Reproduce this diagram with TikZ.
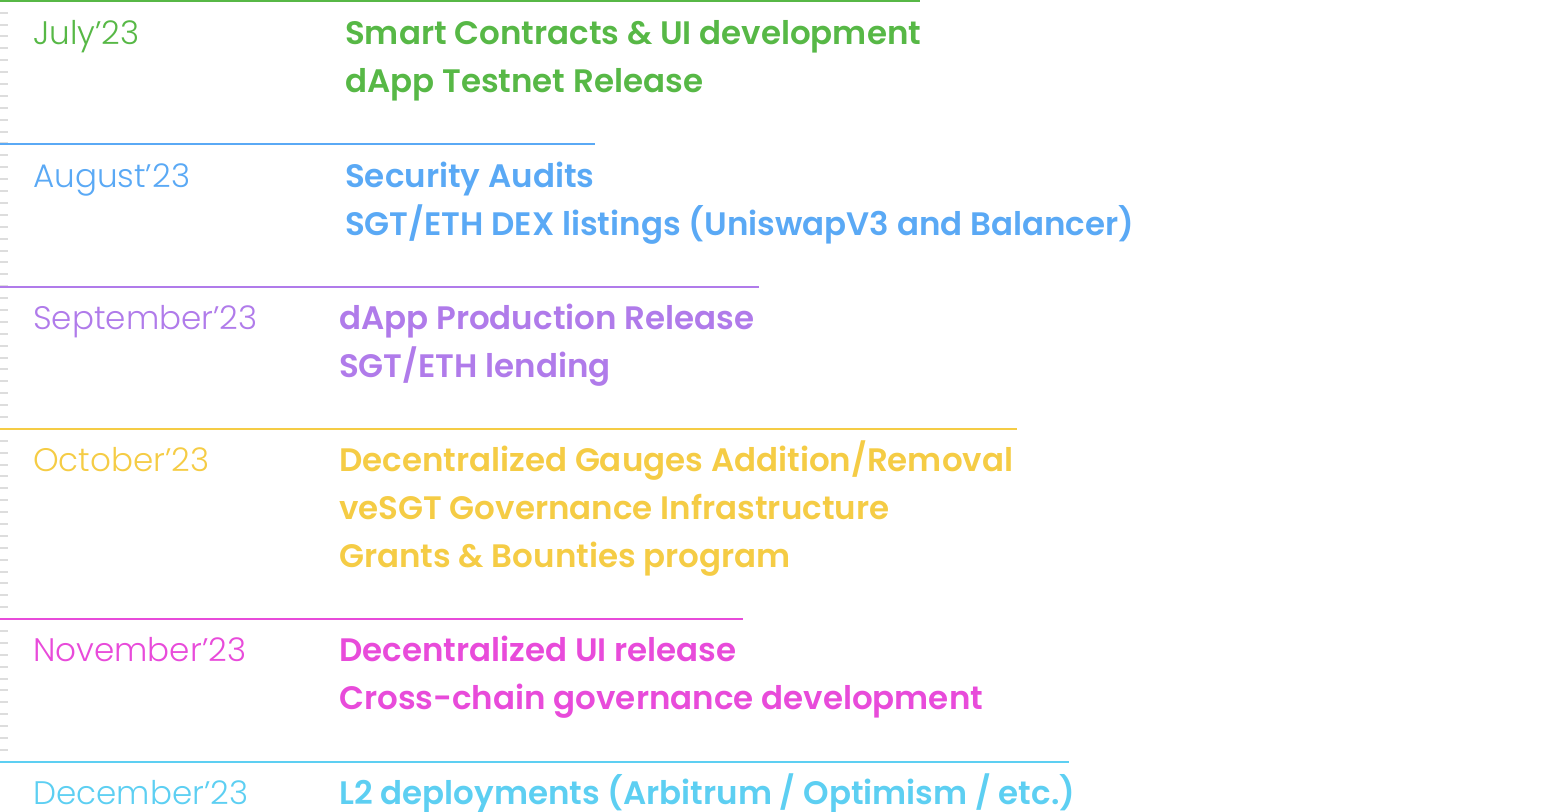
\documentclass[tikz,border=0pt]{standalone}
\usepackage{fontspec}
\setmainfont{Poppins}
\newfontfamily\lightf{Poppins Light}
\newfontfamily\semif{Poppins SemiBold}
\definecolor{cjul}{HTML}{57B846}
\definecolor{caug}{HTML}{5AA9F5}
\definecolor{csep}{HTML}{B07BEA}
\definecolor{coct}{HTML}{F5CC45}
\definecolor{cnov}{HTML}{E84BDA}
\definecolor{cdec}{HTML}{5DCFF2}
\definecolor{ctick}{HTML}{DDDDDD}
\tikzset{
  month/.style={anchor=base west, inner sep=0pt, font=\lightf\fontsize{32.6}{36}\selectfont},
  item/.style={anchor=base west, inner sep=0pt, font=\semif\fontsize{32.5}{36}\selectfont},
  sep/.style={line width=2pt},
  tick/.style={ctick, line width=2pt}
}
\begin{document}
\begin{tikzpicture}[x=1pt,y=-1pt]
\useasboundingbox (0,0) rectangle (1555,811);
\foreach \k in {0,...,62} {
  \draw[tick] (0,{12.7+\k*11.89}) -- (8,{12.7+\k*11.89});
}
% separators
\coordinate (l1a) at (0,1); \coordinate (l1b) at (920,1);
\coordinate (l2a) at (0,143.5); \coordinate (l2b) at (595,143.5);
\coordinate (l3a) at (0,286.5); \coordinate (l3b) at (759,286.5);
\coordinate (l4a) at (0,428.5); \coordinate (l4b) at (1017,428.5);
\coordinate (l5a) at (0,619); \coordinate (l5b) at (743,619);
\coordinate (l6a) at (0,762); \coordinate (l6b) at (1069,762);
\draw[sep,cjul] (l1a) -- (l1b);
\draw[sep,caug] (l2a) -- (l2b);
\draw[sep,csep] (l3a) -- (l3b);
\draw[sep,coct] (l4a) -- (l4b);
\draw[sep,cnov] (l5a) -- (l5b);
\draw[sep,cdec] (l6a) -- (l6b);
% July
\node[month,text=cjul] (mjul) at (33,44) {July’23};
\node[item,text=cjul] (j1) at (345,44) {Smart Contracts \& UI development};
\node[item,text=cjul] (j2) at (345,92) {dApp Testnet Release};
% August
\node[month,text=caug] (maug) at (33,187) {August’23};
\node[item,text=caug] (a1) at (345,187) {Security Audits};
\node[item,text=caug] (a2) at (345,235) {SGT/ETH DEX listings (UniswapV3 and Balancer)};
% September
\node[month,text=csep] (msep) at (33,329) {September’23};
\node[item,text=csep] (s1) at (339,329) {dApp Production Release};
\node[item,text=csep] (s2) at (339,377) {SGT/ETH lending};
% October
\node[month,text=coct] (moct) at (33,471) {October’23};
\node[item,text=coct] (o1) at (339,471) {Decentralized Gauges Addition/Removal};
\node[item,text=coct] (o2) at (339,519) {veSGT Governance Infrastructure};
\node[item,text=coct] (o3) at (339,567) {Grants \& Bounties program};
% November
\node[month,text=cnov] (mnov) at (33,661) {November’23};
\node[item,text=cnov] (n1) at (339,661) {Decentralized UI release};
\node[item,text=cnov] (n2) at (339,709) {Cross-chain governance development};
% December
\node[month,text=cdec] (mdec) at (33,804) {December’23};
\node[item,text=cdec] (d1) at (339,804) {L2 deployments (Arbitrum / Optimism / etc.)};
\end{tikzpicture}
\end{document}
